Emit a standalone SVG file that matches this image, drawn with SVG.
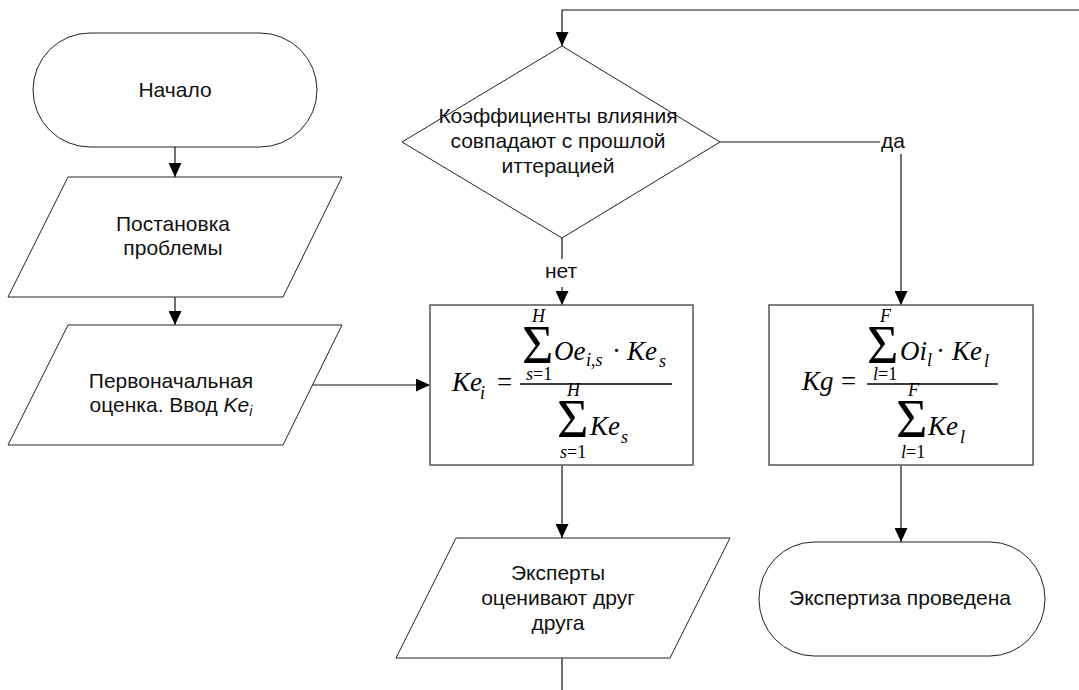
<svg xmlns="http://www.w3.org/2000/svg" width="1079" height="690" viewBox="0 0 1079 690">
  <defs>
    <marker id="arrow" viewBox="0 0 14 13" refX="14" refY="6.5" markerWidth="14" markerHeight="13" markerUnits="userSpaceOnUse" orient="auto">
      <path d="M0 0 L14 6.5 L0 13 Z" fill="#000"/>
    </marker>
    <style>
      .shape { fill: #fff; stroke: #222; stroke-width: 1; }
      .box { fill: #fff; stroke: #555; stroke-width: 1.5; }
      .conn { fill: none; stroke: #111; stroke-width: 1.2; }
      .lbl { font-family: "Liberation Sans", Arial, sans-serif; font-size: 21px; fill: #111; text-anchor: middle; }
      .m { font-family: "Liberation Serif", "Times New Roman", serif; font-style: italic; font-size: 27px; fill: #000; }
      .ms { font-family: "Liberation Serif", "Times New Roman", serif; font-style: italic; font-size: 18px; fill: #000; }
      .up { font-style: normal; }
      .sig { font-family: "Liberation Serif", "Times New Roman", serif; font-size: 54px; fill: #000; }
      .bar { stroke: #000; stroke-width: 1.3; }
    </style>
  </defs>

  <rect width="1079" height="690" fill="#fff"/>

  <!-- connectors -->
  <g id="connectors">
    <line class="conn" x1="175" y1="147" x2="175" y2="177" marker-end="url(#arrow)"/>
    <line class="conn" x1="175" y1="297" x2="175" y2="325" marker-end="url(#arrow)"/>
    <line class="conn" x1="312" y1="385" x2="430" y2="385" marker-end="url(#arrow)"/>
    <polyline class="conn" points="1079,10 562,10 562,46" marker-end="url(#arrow)"/>
    <line class="conn" x1="562" y1="238" x2="562" y2="259"/>
    <line class="conn" x1="562" y1="287" x2="562" y2="305" marker-end="url(#arrow)"/>
    <text class="lbl" x="561" y="278">нет</text>
    <line class="conn" x1="720" y1="142" x2="880" y2="142"/>
    <text class="lbl" x="893" y="148">да</text>
    <line class="conn" x1="901" y1="154" x2="901" y2="305" marker-end="url(#arrow)"/>
    <line class="conn" x1="562" y1="465" x2="562" y2="538" marker-end="url(#arrow)"/>
    <line class="conn" x1="901" y1="465" x2="901" y2="542" marker-end="url(#arrow)"/>
    <line class="conn" x1="562" y1="658" x2="562" y2="690"/>
  </g>

  <!-- start terminal -->
  <g id="start">
    <path class="shape" d="M90 33 H260 A57 57 0 0 1 260 147 H90 A57 57 0 0 1 90 33 Z"/>
    <text class="lbl" x="175" y="97">Начало</text>
  </g>

  <!-- problem statement -->
  <g id="problem">
    <polygon class="shape" points="68,177 342,177 283,297 8,297"/>
    <text class="lbl" x="173" y="231">Постановка</text>
    <text class="lbl" x="173" y="255">проблемы</text>
  </g>

  <!-- initial estimate -->
  <g id="initial">
    <polygon class="shape" points="68,325 342,325 283,445 8,445"/>
    <text class="lbl" x="171" y="388">Первоначальная</text>
    <text class="lbl" x="171" y="412">оценка. Ввод <tspan font-style="italic">Ke</tspan><tspan font-style="italic" font-size="14" dy="4">i</tspan></text>
  </g>

  <!-- decision -->
  <g id="decision">
    <polygon class="shape" points="562,46 720,142 562,238 402,142"/>
    <text class="lbl" x="558" y="123">Коэффициенты влияния</text>
    <text class="lbl" x="558" y="148">совпадают с прошлой</text>
    <text class="lbl" x="558" y="173">иттерацией</text>
  </g>

  <!-- weight recalculation -->
  <g id="recalc">
    <rect class="box" x="430" y="305" width="263" height="160"/>
    <text class="m" x="452" y="391">Ke</text>
    <text class="ms" x="480" y="399">i</text>
    <text class="m up" x="497" y="391">=</text>
    <line class="bar" x1="520" y1="384" x2="672" y2="384"/>
    <text class="sig" x="522" y="363">Σ</text>
    <text class="ms" x="532" y="322">H</text>
    <text class="ms" x="526" y="380">s<tspan class="up">=1</tspan></text>
    <text class="m" x="554" y="360">Oe</text>
    <text class="ms" x="586" y="366">i,s</text>
    <text class="m up" x="612" y="360">·</text>
    <text class="m" x="627" y="360">Ke</text>
    <text class="ms" x="659" y="367">s</text>
    <text class="sig" x="557" y="437">Σ</text>
    <text class="ms" x="567" y="396">H</text>
    <text class="ms" x="560" y="458">s<tspan class="up">=1</tspan></text>
    <text class="m" x="590" y="435">Ke</text>
    <text class="ms" x="621" y="443">s</text>
  </g>

  <!-- group estimate -->
  <g id="result">
    <rect class="box" x="769" y="305" width="264" height="160"/>
    <text class="m" x="802" y="390">Kg</text>
    <text class="m up" x="841" y="390">=</text>
    <line class="bar" x1="867" y1="384" x2="998" y2="384"/>
    <text class="sig" x="867" y="363">Σ</text>
    <text class="ms" x="880" y="322">F</text>
    <text class="ms" x="873" y="380">l<tspan class="up">=1</tspan></text>
    <text class="m" x="900" y="360">Oi</text>
    <text class="ms" x="927" y="366">l</text>
    <text class="m up" x="936" y="360">·</text>
    <text class="m" x="952" y="360">Ke</text>
    <text class="ms" x="984" y="367">l</text>
    <text class="sig" x="896" y="437">Σ</text>
    <text class="ms" x="908" y="396">F</text>
    <text class="ms" x="901" y="458">l<tspan class="up">=1</tspan></text>
    <text class="m" x="928" y="435">Ke</text>
    <text class="ms" x="960" y="443">l</text>
  </g>

  <!-- peer evaluation -->
  <g id="peer">
    <polygon class="shape" points="456,538 730,538 670,658 396,658"/>
    <text class="lbl" x="558" y="580">Эксперты</text>
    <text class="lbl" x="558" y="605">оценивают друг</text>
    <text class="lbl" x="558" y="630">друга</text>
  </g>

  <!-- end terminal -->
  <g id="end">
    <path class="shape" d="M814 542 H990 A55 57 0 0 1 990 656 H814 A55 57 0 0 1 814 542 Z"/>
    <text class="lbl" x="900" y="605">Экспертиза проведена</text>
  </g>
</svg>
